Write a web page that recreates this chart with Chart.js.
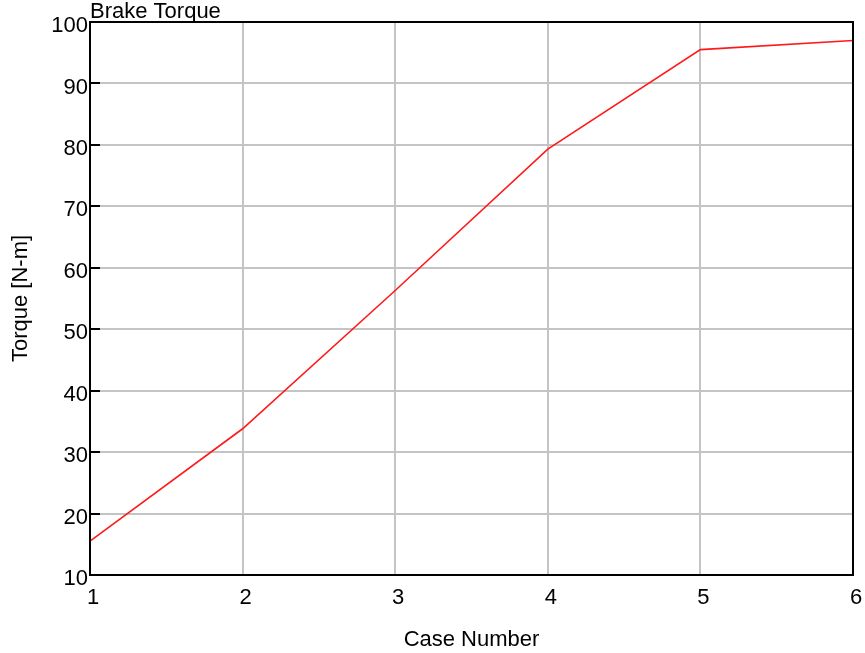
<!DOCTYPE html>
<html>
<head>
<meta charset="utf-8">
<script src="https://cdn.jsdelivr.net/npm/chart.js@4.4.1/dist/chart.umd.min.js"></script>
<style>
  html, body { margin: 0; padding: 0; background: #fff; }
  #wrap { width: 865px; height: 653px; }
</style>
</head>
<body>
<div id="wrap"><canvas id="mycanvas" width="865" height="653"></canvas></div>
<script>
// data
var caseNumbers = ['1', '2', '3', '4', '5', '6'];
var brakeTorque = [15.5, 33.8, 56.3, 79.3, 95.5, 97.0];
var yTicks = [10, 20, 30, 40, 50, 60, 70, 80, 90, 100];

var FONT = 'Liberation Sans, Arial, sans-serif';

// black frame round the plot + small inward ticks on the y axis
var frame = {
  id: 'frame',
  afterDatasetsDraw: function(chart) {
    var a = chart.chartArea, c = chart.ctx, ys = chart.scales.y;
    c.save();
    c.strokeStyle = '#000';
    c.lineWidth = 2;
    yTicks.forEach(function(v) {
      var p = Math.round(ys.getPixelForValue(v));
      c.beginPath();
      c.moveTo(a.left, p);
      c.lineTo(a.left + 10, p);
      c.stroke();
    });
    c.strokeRect(a.left, a.top, a.right - a.left, a.bottom - a.top);
    c.restore();
  }
};

var ctx = document.getElementById('mycanvas');
var chart = new Chart(ctx, {
  type: 'line',
  data: {
    labels: caseNumbers,
    datasets: [{
      label: 'Brake Torque',
      data: brakeTorque,
      borderColor: '#ff1a1a',
      borderWidth: 1.6,
      pointRadius: 0,
      fill: false,
      tension: 0
    }]
  },
  options: {
    responsive: false,
    animation: false,
    layout: { padding: { top: 0, right: 12, bottom: 0, left: 0 } },
    plugins: {
      legend: { display: false },
      tooltip: { enabled: false },
      title: {
        display: true,
        text: 'Brake Torque',
        align: 'start',
        fullSize: false,
        color: '#000',
        font: { family: FONT, size: 22, weight: 'normal', lineHeight: 0.85 },
        padding: { top: 3, bottom: 0.3 }
      }
    },
    scales: {
      x: {
        type: 'category',
        offset: false,
        grid: { color: '#c4c4c4', lineWidth: 2, drawTicks: false },
        border: { display: false },
        ticks: {
          color: '#000',
          font: { family: FONT, size: 22 },
          padding: 10,
          labelOffset: 3,
          maxRotation: 0
        },
        title: {
          display: true,
          text: 'Case Number',
          color: '#000',
          font: { family: FONT, size: 22 },
          padding: { top: 5, bottom: 0 }
        },
        afterFit: function(s) { s.height = 78; s.paddingRight = 0; }
      },
      y: {
        min: 10,
        max: 100,
        grid: { color: '#c4c4c4', lineWidth: 2, drawTicks: false },
        border: { display: false },
        ticks: {
          stepSize: 10,
          color: '#000',
          font: { family: FONT, size: 22 },
          padding: 2,
          labelOffset: 4
        },
        title: {
          display: true,
          text: 'Torque [N-m]',
          color: '#000',
          font: { family: FONT, size: 22 },
          padding: { top: 8, bottom: 0 }
        },
        afterFit: function(s) { s.width = 90; }
      }
    }
  },
  plugins: [frame]
});
</script>
</body>
</html>
